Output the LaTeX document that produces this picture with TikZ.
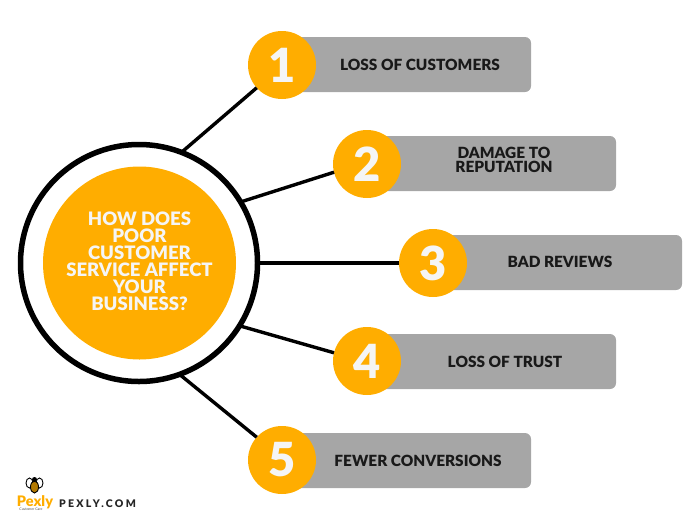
\documentclass[tikz,border=0pt]{standalone}
\usepackage{fontspec}
\setmainfont{Lato}[BoldFont={Lato Black}]
\definecolor{pexorange}{HTML}{FFAD00}
\definecolor{bargray}{HTML}{A6A6A6}
\tikzset{
	numcircle/.style={circle, fill=pexorange, inner sep=0, outer sep=0, minimum size=68pt, text=white!96!black, font=\fontsize{47}{47}\selectfont\bfseries},
	barlabel/.style={align=center, text=black!90, font=\fontsize{15.4}{14.5}\selectfont\bfseries},
	link/.style={line width=3.4pt}
}
\begin{document}
\begin{tikzpicture}[x=1pt, y=-1pt]
	\useasboundingbox (0,0) rectangle (700,525);

	\node[circle, draw=black, line width=5.5pt, inner sep=0, outer sep=0, minimum size=237pt] (ring) at (139,263) {};
	\node[circle, fill=pexorange, inner sep=0, minimum size=193pt] (topic) at (139.5,263) {};
	\node[align=center, text=white!96!black, inner sep=0,
		font=\fontsize{18.5}{17}\selectfont\bfseries] (topiclabel) at (139.5,261) {HOW DOES\\POOR\\CUSTOMER\\SERVICE AFFECT\\YOUR\\BUSINESS?};

	\foreach \n/\cx/\cy/\top/\xend/\tx/\ty/\txt in {1/282/65/37/531/420/65/{LOSS OF CUSTOMERS},
			2/367/164/136/616/504/160/{DAMAGE TO\\REPUTATION},
			3/433/263/235/682/560/262/{BAD REVIEWS},
			4/367/361/334/616/505/361.5/{LOSS OF TRUST},
			5/282/460/433/531/418/460.5/{FEWER CONVERSIONS}} {
		\path[fill=bargray, rounded corners=6pt] (\cx,\top) rectangle (\xend,\top+55);
		\node[numcircle] (num\n) at (\cx,\cy) {\n};
		\node[barlabel] (label\n) at (\tx,\ty) {\txt};
	}

	\draw[link] (ring.69) -- (num1.222);
	\draw[link] (ring.31) -- (num2.194);
	\draw[link] (ring.east) -- (num3.west);
	\draw[link] (ring.-32) -- (num4.166);
	\draw[link] (ring.-70) -- (num5.138);

	% logo
	\draw[black, line width=0.9pt, fill=white] (29.5,483) ellipse (3.5pt and 5pt);
	\draw[black, line width=0.9pt, fill=white] (39.5,483) ellipse (3.5pt and 5pt);
	\draw[black, line width=0.9pt, fill=pexorange!70!black] (34.5,487) ellipse (4pt and 6pt);
	\fill[black] (34.5,479.5) circle (2.5pt);
	\node[inner sep=0, text=pexorange, font=\fontsize{14.5}{14}\selectfont\bfseries] (logo) at (35,502) {Pexly};
	\node[inner sep=0, text=black!70, font=\fontsize{3.5}{4}\selectfont] (logosub) at (31,509.5) {Customer Care};
	\node[inner sep=0, text=black!85, font=\fontsize{10.5}{10}\selectfont\bfseries\addfontfeatures{LetterSpace=22}] (site) at (97.5,503.5) {PEXLY.COM};
\end{tikzpicture}
\end{document}
